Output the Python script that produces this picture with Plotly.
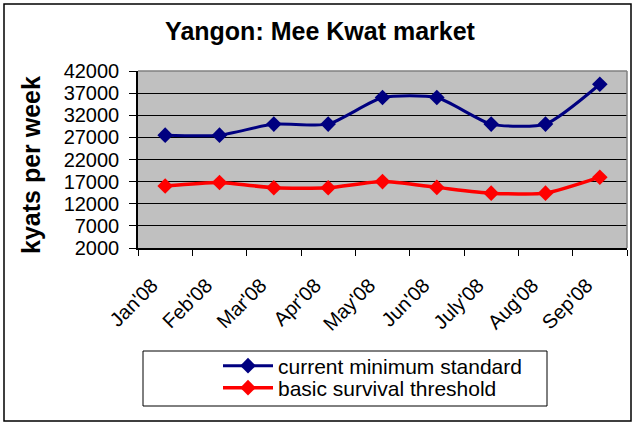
import plotly.graph_objects as go

months = ["Jan'08", "Feb'08", "Mar'08", "Apr'08", "May'08", "Jun'08", "July'08", "Aug'08", "Sep'08"]
current_min_standard = [27500, 27500, 30000, 30000, 36000, 36000, 30000, 30000, 39000]
basic_survival = [16000, 16800, 15600, 15600, 17000, 15700, 14400, 14400, 18000]
y_ticks = [2000, 7000, 12000, 17000, 22000, 27000, 32000, 37000, 42000]
y_tick_text = [str(v) for v in y_ticks]

W, H = 635, 423
ML, MR, MT, MB = 138, 8, 71, 175
PW, PH = W - ML - MR, H - MT - MB


def px_x(p):
    return (p - ML) / PW


def px_y(p):
    return (H - MB - p) / PH


font = "Liberation Sans, Arial, sans-serif"

fig = go.Figure()
fig.add_trace(go.Scatter(
    x=months, y=current_min_standard, name="current minimum standard",
    mode="lines+markers", legend="legend",
    line=dict(color="#000080", width=3, shape="spline", smoothing=0.6),
    marker=dict(symbol="diamond", size=12, color="#000080"),
))
fig.add_trace(go.Scatter(
    x=months, y=basic_survival, name="basic survival threshold",
    mode="lines+markers", legend="legend2",
    line=dict(color="#FF0000", width=3.5, shape="spline", smoothing=0.6),
    marker=dict(symbol="diamond", size=12, color="#FF0000"),
))

# outer chart frame, legend box and plot-area edge
fig.add_shape(type="rect", xref="paper", yref="paper",
              x0=px_x(4), x1=px_x(631), y0=px_y(421), y1=px_y(4),
              line=dict(color="#000000", width=1.5), layer="below")
fig.add_shape(type="rect", xref="paper", yref="paper",
              x0=px_x(143), x1=px_x(547), y0=px_y(406), y1=px_y(351),
              line=dict(color="#000000", width=1), layer="below")
fig.add_shape(type="line", xref="paper", yref="paper",
              x0=0, x1=1, y0=1, y1=1, line=dict(color="#808080", width=1.5), layer="above")
fig.add_shape(type="line", xref="paper", yref="paper",
              x0=1, x1=1, y0=0, y1=1, line=dict(color="#808080", width=1.5), layer="above")

# vertical axis caption
fig.add_annotation(text="<b>kyats per week</b>", xref="paper", yref="paper",
                   x=px_x(31), y=px_y(165), xanchor="center", yanchor="middle",
                   textangle=-90, showarrow=False,
                   font=dict(size=25, family=font, color="black"))

legend_style = dict(xanchor="left", yanchor="middle", bgcolor="rgba(0,0,0,0)",
                    borderwidth=0, font=dict(size=21, family=font), itemwidth=50)

fig.update_layout(
    width=W, height=H,
    margin=dict(l=ML, r=MR, t=MT, b=MB),
    paper_bgcolor="white", plot_bgcolor="#C0C0C0",
    font=dict(family=font, color="black"),
    title=dict(text="<b>Yangon: Mee Kwat market</b>", x=px_x(320), xanchor="center",
               xref="paper", y=1 - 31 / H, yanchor="middle",
               font=dict(size=25, family=font)),
    showlegend=True,
    legend=dict(x=px_x(218), y=px_y(366), **legend_style),
    legend2=dict(x=px_x(218), y=px_y(388), **legend_style),
    xaxis=dict(
        type="category", tickson="boundaries", ticks="outside", ticklen=6,
        tickcolor="black", tickangle=-45, showgrid=False,
        showline=True, linecolor="black", linewidth=1.5,
        tickfont=dict(size=20, family=font), range=[-0.5, 8.5],
        ticklabelshift=-13, ticklabelstandoff=16,
    ),
    yaxis=dict(
        range=[2000, 42000], tickvals=y_ticks, ticktext=y_tick_text,
        ticks="outside", ticklen=7,
        tickcolor="black", showgrid=True, gridcolor="black", gridwidth=1,
        showline=True, linecolor="black", linewidth=1.5, zeroline=False,
        tickfont=dict(size=20, family=font), ticklabelstandoff=6,
    ),
)

fig.write_html("out.html")
